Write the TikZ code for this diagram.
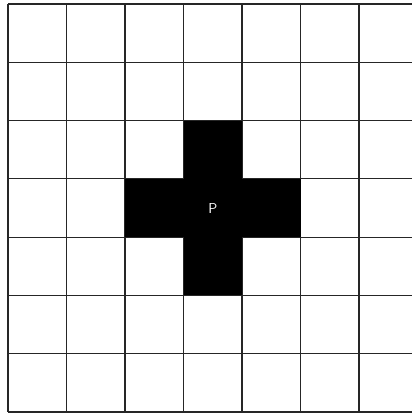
\documentclass[tikz,border=0pt]{standalone}
\begin{document}
\begin{tikzpicture}[x=1pt,y=-1pt,
  gridline/.style={line width=1.1pt,black!85},
  cell/.style={fill=black}]
\useasboundingbox (0,0) rectangle (412,414);
\def\sx{58.5}\def\sy{58.29}
% grid
\foreach \i in {0,...,6} \draw[gridline] (8+\i*\sx,4) -- (8+\i*\sx,412);
\foreach \j in {0,...,7} \draw[gridline] (8,4+\j*\sy) -- (412,4+\j*\sy);
% black cross
\fill[cell] (8+2*\sx,4+3*\sy) rectangle (8+5*\sx,4+4*\sy);
\fill[cell] (8+3*\sx,4+2*\sy) rectangle (8+4*\sx,4+5*\sy);
\node[text=white,font=\sffamily\Large] (p) at (8+3.5*\sx,4+3.5*\sy) {P};
\end{tikzpicture}
\end{document}
